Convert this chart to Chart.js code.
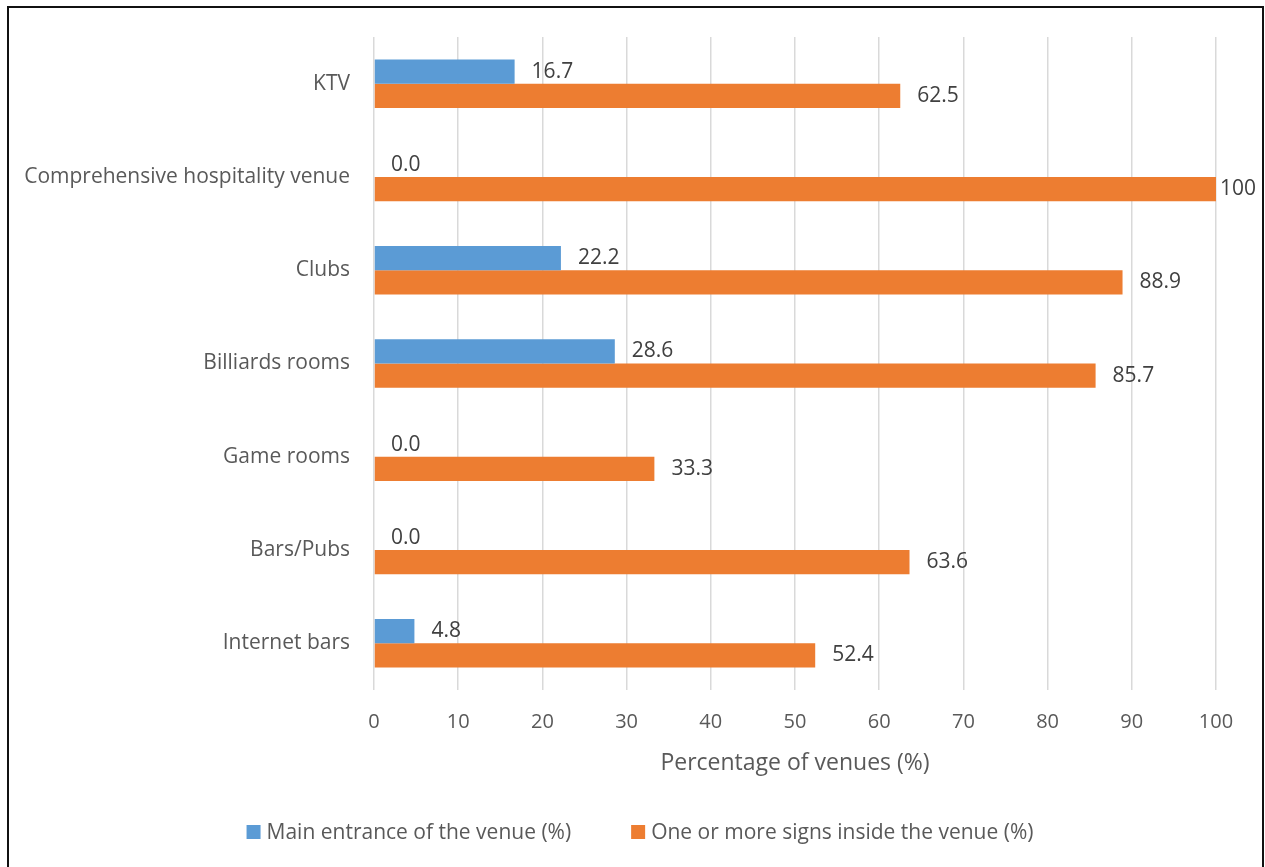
<!DOCTYPE html>
<html lang="en">
  <head>
    <meta charset="UTF-8" />
    <title>Percentage of venues with signs</title>
    <script src="https://cdn.jsdelivr.net/npm/chart.js@4.4.1/dist/chart.umd.min.js"></script>
    <style>
      body {
        margin: 0;
        padding: 0;
        background: white;
        overflow: hidden;
      }

      .frame {
        position: absolute;
        left: 7px;
        top: 6px;
        width: 1253px;
        height: 900px;
        border: 2px solid #111;
        pointer-events: none;
      }

      .container {
        position: absolute;
        left: 0;
        top: 0;
        width: 1265px;
        height: 867px;
      }
    </style>
  </head>
  <body>
    <div class="container">
      <canvas id="venueChart"></canvas>
    </div>
    <div class="frame"></div>
    <script>
      const categories = [
        'KTV',
        'Comprehensive hospitality venue',
        'Clubs',
        'Billiards rooms',
        'Game rooms',
        'Bars/Pubs',
        'Internet bars',
      ]
      const mainEntrance = [16.7, 0.0, 22.2, 28.6, 0.0, 0.0, 4.8]
      const signsInside = [62.5, 100, 88.9, 85.7, 33.3, 63.6, 52.4]
      const seriesNames = [
        'Main entrance of the venue (%)',
        'One or more signs inside the venue (%)',
      ]
      const xTicks = [0, 10, 20, 30, 40, 50, 60, 70, 80, 90, 100]

      const format = (v) => (v === 100 ? '100' : v.toFixed(1))

      // value labels at the end of each bar
      const barLabels = {
        id: 'barLabels',
        afterDatasetsDraw(chart) {
          const { ctx } = chart
          ctx.save()
          ctx.font = '21px "Open Sans"'
          ctx.fillStyle = '#404040'
          ctx.textBaseline = 'middle'
          chart.data.datasets.forEach((ds, i) => {
            chart.getDatasetMeta(i).data.forEach((bar, j) => {
              const text = format(ds.data[j])
              const w = ctx.measureText(text).width
              let x = bar.x + 17
              if (x + w > 1256) x = 1256 - w
              ctx.fillText(text, x, bar.y)
            })
          })
          ctx.restore()
        },
      }

      // legend drawn by hand, Excel-like spacing
      const bottomLegend = {
        id: 'bottomLegend',
        afterDraw(chart) {
          const { ctx } = chart
          const gap = 60
          const box = 14
          ctx.save()
          ctx.font = '21px "Open Sans"'
          const widths = chart.data.datasets.map(
            (ds) => box + 6 + ctx.measureText(ds.label).width
          )
          const total = widths.reduce((a, b) => a + b, 0) + gap
          let x = 640 - total / 2
          const y = 832
          chart.data.datasets.forEach((ds, i) => {
            ctx.fillStyle = ds.backgroundColor
            ctx.fillRect(x, y - box / 2, box, box)
            ctx.fillStyle = '#595959'
            ctx.textBaseline = 'middle'
            ctx.fillText(ds.label, x + box + 6, y + 1)
            x += widths[i] + gap
          })
          ctx.restore()
        },
      }

      const ctx = document.getElementById('venueChart').getContext('2d')
      new Chart(ctx, {
        type: 'bar',
        data: {
          labels: categories,
          datasets: [
            {
              label: seriesNames[0],
              data: mainEntrance,
              backgroundColor: '#5B9BD5',
            },
            {
              label: seriesNames[1],
              data: signsInside,
              backgroundColor: '#ED7D31',
            },
          ],
        },
        options: {
          indexAxis: 'y',
          responsive: true,
          maintainAspectRatio: false,
          animation: false,
          categoryPercentage: 0.52,
          barPercentage: 1,
          layout: {
            padding: { left: 0, right: 49, top: 37, bottom: 0 },
          },
          plugins: {
            legend: { display: false },
            tooltip: { enabled: false },
          },
          scales: {
            x: {
              min: 0,
              max: 100,
              afterBuildTicks: (scale) => {
                scale.ticks = xTicks.map((v) => ({ value: v }))
              },
              afterFit: (scale) => {
                scale.height = 177
              },
              grid: {
                color: '#d9d9d9',
                lineWidth: 1.5,
                drawTicks: false,
              },
              border: { display: false },
              ticks: {
                padding: 20,
                color: '#595959',
                font: { family: 'Open Sans', size: 20 },
              },
              title: {
                display: true,
                text: 'Percentage of venues (%)',
                color: '#595959',
                font: { family: 'Open Sans', size: 23 },
                padding: { top: 0, bottom: 90 },
              },
            },
            y: {
              afterFit: (scale) => {
                scale.width = 374
              },
              grid: { display: false },
              border: { display: false },
              ticks: {
                padding: 16,
                color: '#595959',
                font: { family: 'Open Sans', size: 21 },
              },
            },
          },
        },
        plugins: [barLabels, bottomLegend],
      })
    </script>
  </body>
</html>
